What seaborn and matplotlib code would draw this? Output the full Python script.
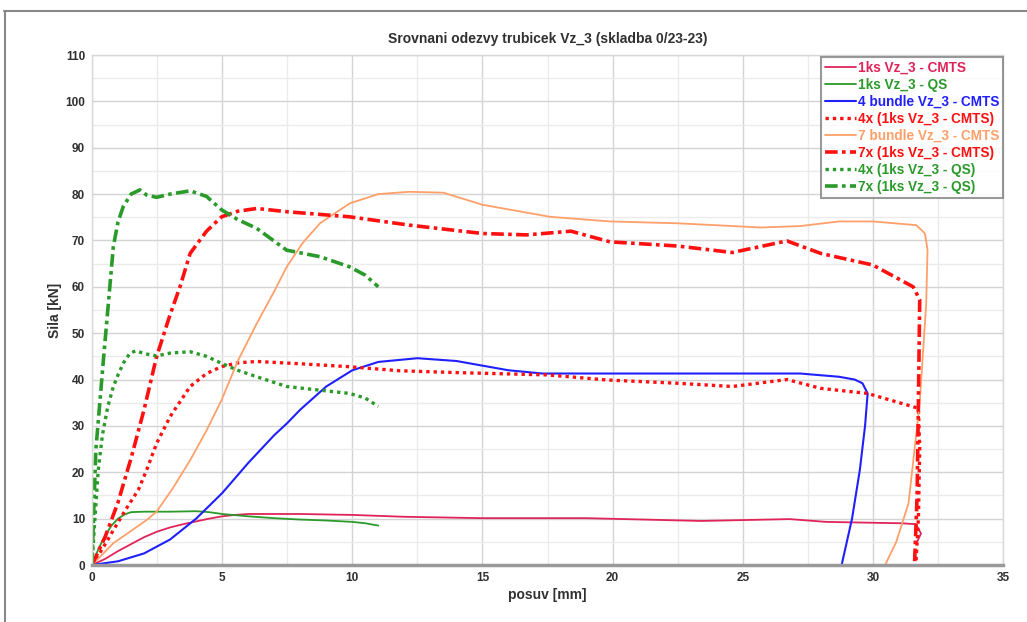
import numpy as np
import matplotlib
matplotlib.use("Agg")
import matplotlib.pyplot as plt
from matplotlib.lines import Line2D
from matplotlib.ticker import MultipleLocator
import seaborn as sns

# values (posuv [mm] vs sila [kN])
x_1ks_cmts = [0, 0.5, 1, 1.5, 2, 2.5, 3, 3.5, 4, 4.5, 5, 5.5, 6, 8, 10, 12, 15, 19,
              23.4, 26.8, 28.2, 31.1, 31.65, 31.85, 31.7]
y_1ks_cmts = [0, 1.3, 3, 4.5, 6, 7.2, 8.1, 8.8, 9.4, 10, 10.5, 10.8, 11, 11, 10.8, 10.4,
              10.1, 10.1, 9.5, 9.9, 9.3, 9.0, 8.8, 6.8, 5.0]

x_1ks_qs = [0, 0.25, 0.5, 0.75, 1, 1.25, 1.5, 2, 3, 4, 4.5, 5, 6, 7, 8, 9, 10, 10.5, 11]
y_1ks_qs = [0, 3.5, 6.3, 8.5, 10, 10.9, 11.4, 11.5, 11.5, 11.6, 11.4, 11, 10.5, 10.1,
            9.8, 9.6, 9.3, 9.0, 8.5]

x_4b_cmts = [0, 1, 2, 3, 4, 5, 6, 7, 7.5, 8, 9, 10, 11, 12.5, 14, 15, 16, 17.3, 20, 25,
             27.2, 28.7, 29.3, 29.6, 29.8, 29.7, 29.5, 29.2, 28.8]
y_4b_cmts = [0, 0.8, 2.5, 5.5, 10, 15.5, 22, 28, 30.6, 33.5, 38.5, 42, 43.8, 44.6, 44,
             43, 42, 41.3, 41.3, 41.3, 41.3, 40.6, 40, 39.2, 37, 30, 20.5, 10, 0]

x_4x_cmts = [0, 0.4, 0.82, 1.3, 1.78, 2.1, 2.48, 3, 3.77, 4.4, 4.98, 5.6, 6.33, 8, 9.8,
             11.8, 14, 17.5, 19.8, 22.5, 24.6, 26.7, 28, 29.8, 31.75, 31.8, 31.75, 31.65]
y_4x_cmts = [0, 3.5, 7.5, 12, 16.2, 20.5, 26.2, 32, 38.5, 41.3, 42.8, 43.6, 43.9, 43.4,
             42.8, 41.9, 41.5, 41.0, 39.9, 39.2, 38.5, 40, 38.1, 37, 33.8, 25, 10, 0]

x_7b_cmts = [0, 0.82, 2.1, 2.48, 3.1, 3.77, 4.4, 4.98, 5.6, 6.33, 7, 7.48, 8.1, 8.76,
             9.9, 11, 12.2, 13.5, 15, 17.6, 19.9, 22.5, 25.7, 27.2, 28.7, 30, 31.67,
             32.0, 32.1, 32.05, 31.8, 31.37, 30.9, 30.47]
y_7b_cmts = [0, 4.7, 9.7, 11.5, 16.5, 22.6, 29, 35.6, 44, 52.1, 59, 64.3, 69.5, 73.7,
             78, 80, 80.5, 80.3, 77.7, 75.1, 74.1, 73.7, 72.8, 73.1, 74.1, 74.1, 73.3,
             71.5, 68, 56.4, 34.9, 13.3, 5, 0]

x_7x_cmts = [0, 0.5, 1, 1.14, 1.5, 2, 2.48, 3, 3.38, 3.77, 4.4, 4.98, 5.6, 6.33, 7.48,
             9.9, 12.2, 15, 16.7, 18.4, 19.9, 22.5, 24.6, 26.7, 28, 30, 31.55, 31.8,
             31.75, 31.7, 31.6]
y_7x_cmts = [0, 6, 13.5, 16.2, 23, 33.5, 44.9, 54, 60, 67.2, 72, 75.1, 76.3, 76.9,
             76.2, 75.1, 73.3, 71.5, 71.2, 72, 69.7, 68.8, 67.4, 69.9, 67.2, 64.7, 60,
             57.2, 35, 15, 0]

x_4x_qs = [0, 0.1, 0.24, 0.4, 0.6, 0.82, 1.0, 1.2, 1.46, 1.69, 2, 2.48, 3, 3.77, 4.4,
           4.98, 5.6, 6.33, 7.48, 8.76, 9.9, 10.5, 11]
y_4x_qs = [0, 9, 20.5, 28, 34, 38.5, 41, 43.5, 45.7, 46.2, 45.6, 45.1, 45.7, 46, 45,
           43.5, 42, 40.6, 38.5, 37.7, 37, 36, 34.2]

x_7x_qs = [0, 0.08, 0.15, 0.3, 0.45, 0.63, 0.82, 1.0, 1.2, 1.5, 1.84, 2.1, 2.48, 3,
           3.77, 4.4, 4.98, 5.6, 6.33, 7.48, 8.76, 9.9, 10.5, 11]
y_7x_qs = [0, 14, 25, 35, 45, 56.5, 68.7, 74, 77.3, 80, 80.9, 79.8, 79.3, 80, 80.7,
           79.5, 76.6, 74.5, 72.6, 67.9, 66.5, 64.3, 62.5, 60]

labels = ["1ks Vz_3 - CMTS", "1ks Vz_3 - QS", "4 bundle Vz_3 - CMTS",
          "4x (1ks Vz_3 - CMTS)", "7 bundle Vz_3 - CMTS", "7x (1ks Vz_3 - CMTS)",
          "4x (1ks Vz_3 - QS)", "7x (1ks Vz_3 - QS)"]

crimson = "#e0245a"
green = "#2a9a2a"
blue = "#2020ff"
red = "#ff1010"
orange = "#ffa06a"

series = [
    (x_1ks_cmts, y_1ks_cmts, crimson, "-", 1.3),
    (x_1ks_qs, y_1ks_qs, green, "-", 1.3),
    (x_4b_cmts, y_4b_cmts, blue, "-", 1.5),
    (x_4x_cmts, y_4x_cmts, red, (0, (1, 1.2)), 2.4),
    (x_7b_cmts, y_7b_cmts, orange, "-", 1.3),
    (x_7x_cmts, y_7x_cmts, red, (0, (3.5, 1.2, 1, 1.2)), 2.6),
    (x_4x_qs, y_4x_qs, green, (0, (1, 1.2)), 2.4),
    (x_7x_qs, y_7x_qs, green, (0, (3.5, 1.2, 1, 1.2)), 2.6),
]

sns.set_style("white")
plt.rcParams["font.family"] = ["Liberation Sans", "DejaVu Sans"]

fig = plt.figure(figsize=(10.27, 6.22), dpi=100)
ax = fig.add_axes([92 / 1027, 1 - 565 / 622, (1003 - 92) / 1027, (565 - 55) / 622])

handles = []
for (xs, ys, col, ls, lw), lab in zip(series, labels):
    sns.lineplot(x=xs, y=ys, sort=False, estimator=None, color=col, ax=ax, linewidth=lw)
    line = ax.get_lines()[-1]
    line.set_linestyle(ls)
    line.set_label(lab)
    handles.append(line)

ax.set_xlim(0, 35)
ax.set_ylim(0, 110)
ax.xaxis.set_major_locator(MultipleLocator(5))
ax.xaxis.set_minor_locator(MultipleLocator(2.5))
ax.yaxis.set_major_locator(MultipleLocator(10))
ax.yaxis.set_minor_locator(MultipleLocator(5))
ax.grid(which="major", color="#d4d4d4", linewidth=1.0)
ax.grid(which="minor", color="#ebebeb", linewidth=1.0)
ax.set_axisbelow(True)

for side in ["top", "right", "left"]:
    ax.spines[side].set_color("#d8d8d8")
    ax.spines[side].set_linewidth(1.0)
ax.spines["bottom"].set_color("#9a9a9a")
ax.spines["bottom"].set_linewidth(2.5)

ax.tick_params(axis="both", which="major", labelsize=8.5, length=3, color="#a0a0a0",
               labelcolor="#303030", pad=2)
ax.tick_params(axis="both", which="minor", length=0)
for t in ax.get_xticklabels() + ax.get_yticklabels():
    t.set_fontweight("bold")

ax.set_xlabel("posuv [mm]", fontsize=10, fontweight="bold", color="#303030", labelpad=3)
ax.set_ylabel("Sila [kN]", fontsize=10, fontweight="bold", color="#303030")
ax.yaxis.set_label_coords(-0.033, 0.5)
ax.set_title("Srovnani odezvy trubicek Vz_3 (skladba 0/23-23)", fontsize=10,
             fontweight="bold", color="#303030", pad=9)

leg = ax.legend(handles=handles, loc="upper right", bbox_to_anchor=(1.0, 0.997),
                frameon=True, fancybox=False, handlelength=2.3,
                handletextpad=0.1, labelspacing=0.22, borderpad=0.3,
                borderaxespad=0.0, prop={"weight": "bold", "size": 9.8})
leg.get_frame().set_edgecolor("#808080")
leg.get_frame().set_linewidth(1.5)
for txt, h in zip(leg.get_texts(), handles):
    txt.set_color(h.get_color())

# screenshot frame around the chart
fig.add_artist(Line2D([4 / 1027, 1], [1 - 10.5 / 622, 1 - 10.5 / 622], color="#888888",
                      linewidth=1.5, transform=fig.transFigure))
fig.add_artist(Line2D([4.5 / 1027, 4.5 / 1027], [0, 1 - 10.5 / 622], color="#888888",
                      linewidth=1.5, transform=fig.transFigure))

fig.savefig("out.png", dpi=100)
